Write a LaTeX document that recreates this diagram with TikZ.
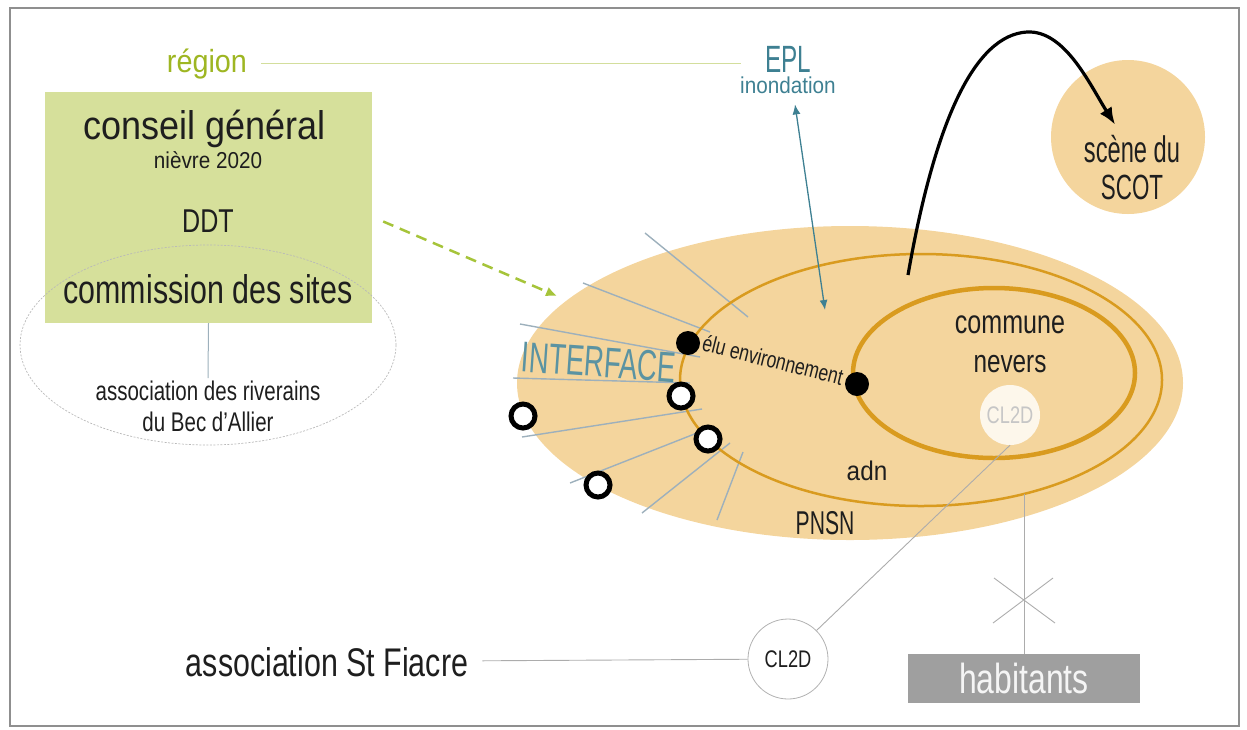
\documentclass[tikz,border=0pt]{standalone}
\usepackage{fontspec}
\setmainfont{Liberation Sans}[FakeStretch=0.76]
\newfontfamily\narrowfont{Liberation Sans}[FakeStretch=0.64]
\newfontfamily\widefont{Liberation Sans}[FakeStretch=0.9]
\usepackage{tikz}
\usetikzlibrary{arrows.meta, shapes.geometric}
\definecolor{sand}{HTML}{F4D59D}
\definecolor{ochre}{HTML}{D99B1F}
\definecolor{petrol}{HTML}{3E8092}
\definecolor{lime}{HTML}{D6E09B}
\definecolor{limedash}{HTML}{A6C43A}
\definecolor{olive}{HTML}{9EB622}
\definecolor{fanline}{HTML}{9DB0BC}
\definecolor{framegray}{HTML}{8F8F8F}
\definecolor{ink}{HTML}{1E1E1E}
\newcommand{\sz}[1]{\fontsize{#1}{#1}\selectfont}

\begin{document}
\begin{tikzpicture}[x=1pt, y=-1pt,
          txt/.style={anchor=base, inner sep=2pt, text=ink},
          dot/.style={circle, fill=black, inner sep=0pt, minimum size=24pt},
          hollow/.style={circle, draw=black, line width=5pt, fill=white, inner sep=0pt, minimum size=24pt},
          ring/.style={ellipse, draw=ochre, inner sep=0pt},
          fan/.style={fanline, line width=1.4pt},
          thin link/.style={draw=gray!65, line width=0.9pt}
        ]
        \useasboundingbox (0,0) rectangle (1247,729);
        \draw[framegray, line width=2pt] (10,8) rectangle (1239,726);

        \node[ellipse, fill=sand, inner sep=0pt, minimum width=666pt, minimum height=314pt] (pnsn zone) at (850,383) {};
        \node[circle, fill=sand, inner sep=0pt, minimum size=154pt] (scot zone) at (1128,137) {};
        \foreach \xa/\ya/\xb/\yb in {645/233/748/317, 583/283/710/332, 520/324/700/357, 513/378/690/383,
                                     522/437/702/409, 570/483/697/433, 642/513/730/443, 717/520/743/452}
          \draw[fan] (\xa,\ya) -- (\xb,\yb);
        \node[ring, line width=2.5pt, minimum width=482pt, minimum height=252pt] (adn ring) at (921,380) {};
        \node[ring, line width=4.5pt, minimum width=282pt, minimum height=170pt] (commune ring) at (994,373) {};
        \node[circle, fill=white!80!sand, inner sep=0pt, minimum size=60pt, text=gray!45, font=\sz{24}] (cl2d in) at (1010,415) {CL2D};

        \node[fill=lime, inner sep=0pt, minimum width=327pt, minimum height=231pt] (cg box) at (208.5,207.5) {};
        \node[ellipse, draw=gray!55, dash pattern=on 2pt off 1.5pt, line width=0.7pt, inner sep=0pt,
              minimum width=376pt, minimum height=200pt] (riverains zone) at (208,345) {};

        \node[txt, text=olive, font=\widefont\sz{32}] (region) at (207,72) {région};
        \node[txt, font=\widefont\sz{40}] (cg title) at (205,139) {conseil général};
        \node[txt, font=\widefont\sz{23}] (nievre) at (208,168) {nièvre 2020};
        \node[txt, font=\sz{33}] (ddt) at (208,232) {DDT};
        \node[txt, font=\sz{40}] (sites) at (208,303) {commission des sites};
        \node[txt, font=\sz{27}] (riverains) at (208,400) {association des riverains};
        \node[txt, font=\sz{27}] (bec) at (208,431) {du Bec d’Allier};
        \node[txt, text=petrol, font=\narrowfont\sz{38}] (epl) at (788,72) {EPL};
        \node[txt, text=petrol, font=\widefont\sz{23}] (inondation) at (788,93) {inondation};
        \node[txt, font=\narrowfont\sz{37}] (scene) at (1132,162) {scène du};
        \node[txt, font=\narrowfont\sz{35}] (scot) at (1132,199) {SCOT};
        \node[txt, font=\sz{33}] (commune) at (1010,333) {commune};
        \node[txt, font=\sz{32}] (nevers) at (1010,372) {nevers};
        \node[txt, font=\widefont\sz{27}] (adn) at (867,480) {adn};
        \node[txt, font=\narrowfont\sz{33}] (pnsn) at (825,534) {PNSN};
        \node[txt, text=petrol!85, font=\narrowfont\sz{43}, rotate=-4] (interface) at (598,377) {INTERFACE};
        \node[txt, font=\sz{23}, rotate=-14] (elu) at (771,368) {élu environnement};
        \node[txt, font=\sz{40}] (fiacre) at (327,676) {association St Fiacre};
        \node[circle, draw=gray!60, fill=white, line width=0.8pt, inner sep=0pt, minimum size=80pt,
              text=ink, font=\sz{24}] (cl2d out) at (788,659) {CL2D};
        \node[fill=gray!75, inner sep=0pt, minimum width=232pt, minimum height=49pt,
              text=white!92!gray, font=\sz{42}] (habitants) at (1024,678.5) {habitants};

        \coordinate (epl end) at (825,310);
        \coordinate (arc start) at (908,275);
        \coordinate (hab end) at (1024,494);
        \coordinate (dash end) at (557,296);

        \draw[olive!45, line width=1pt, shorten <=12pt, shorten >=22pt] (region) -- (region -| epl.west);
        \draw[fanline, line width=1pt] (cg box.south) -- (riverains.north);
        \draw[limedash, line width=2.5pt, dash pattern=on 11pt off 7pt, -{Latex[length=11pt,width=10pt]}]
          ([xshift=11pt, yshift=-14pt]cg box.east) -- (dash end);
        \draw[petrol, line width=1.3pt, {Latex[length=10pt,width=8pt]}-{Latex[length=10pt,width=8pt]}]
          ([xshift=7pt, yshift=-9pt]inondation.south) -- (epl end);
        \draw[black, line width=3.2pt, -{Latex[length=17pt,width=14pt]}]
          (arc start) .. controls (935,120) and (975,35) .. (1027,32)
                      .. controls (1065,30) and (1090,85) .. ([xshift=-17pt, yshift=8pt]scene.north);
        \draw[thin link] (cl2d out.45) -- (cl2d in.south);
        \draw[thin link, shorten <=12pt] (fiacre) -- (cl2d out);
        \draw[thin link] (habitants.north) -- (hab end);
        \draw[thin link] (994,578) -- (1055,623) (1053,578) -- (993,623);

        \node[dot] (elu left) at (688,343) {};
        \node[dot] (elu right) at (857,384) {};
        \node[hollow] (pt a) at (681,396) {};
        \node[hollow] (pt b) at (708,439) {};
        \node[hollow] (pt c) at (523,416) {};
        \node[hollow] (pt d) at (598,485) {};
      \end{tikzpicture}
\end{document}
